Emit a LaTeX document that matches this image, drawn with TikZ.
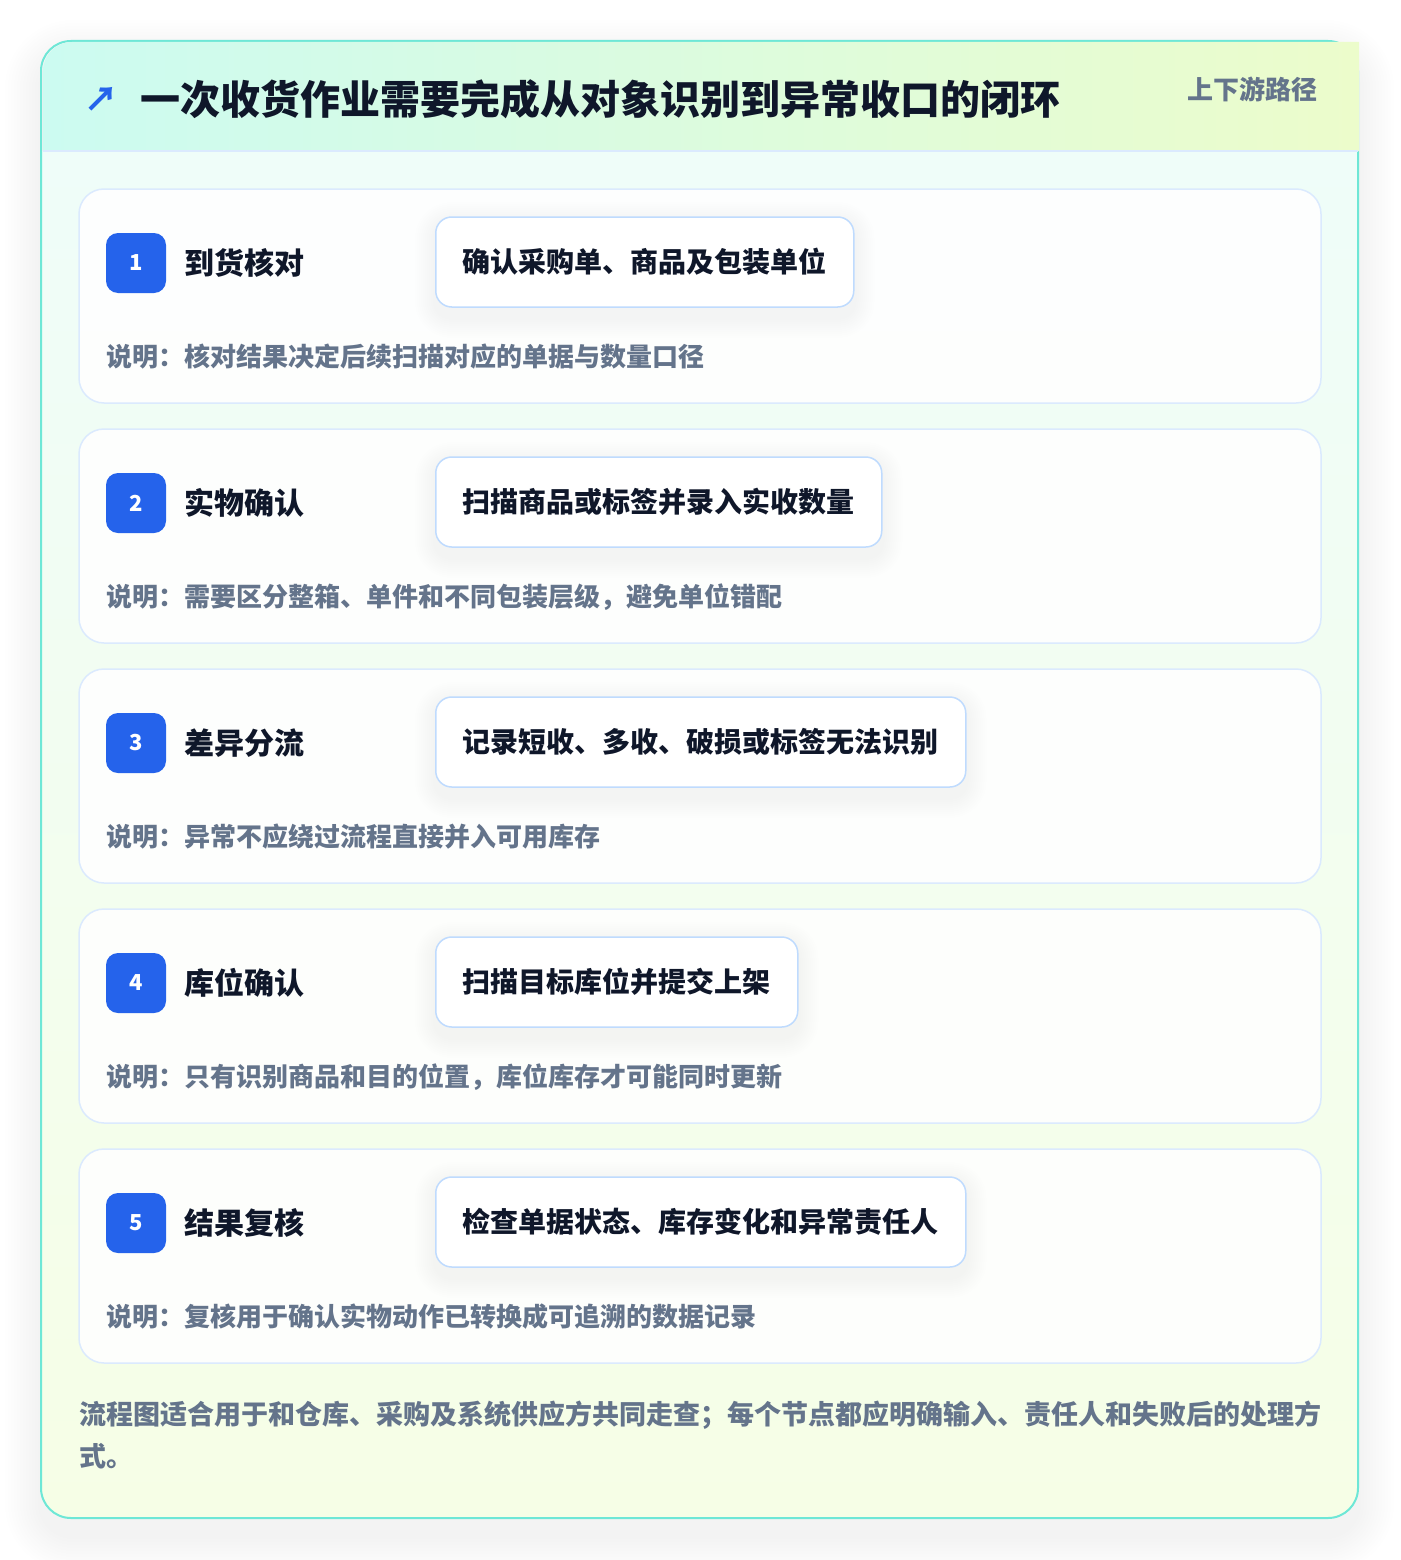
\documentclass[tikz,border=0pt]{standalone}
\usepackage{fontspec}
\setmainfont{Noto Sans CJK SC}
\usetikzlibrary{positioning}
\definecolor{tealedge}{HTML}{6EE7D6}
\definecolor{headleft}{HTML}{CCFBF1}
\definecolor{headright}{HTML}{ECFCCB}
\definecolor{bodytop}{HTML}{EFFDF9}
\definecolor{bodybot}{HTML}{F6FEE6}
\definecolor{cardedge}{HTML}{DBEAFE}
\definecolor{boxedge}{HTML}{BFDBFE}
\definecolor{badgeblue}{HTML}{2563EB}
\definecolor{ink}{HTML}{0F172A}
\definecolor{muted}{HTML}{64748B}
\pgfdeclarelayer{back}
\pgfdeclarelayer{shade}
\pgfsetlayers{back,shade,main}
\tikzset{
  stepcard/.style={draw=cardedge, line width=1.5pt, fill=white, fill opacity=0.88, draw opacity=1, rounded corners=25pt},
  badge/.style={fill=badgeblue, rounded corners=12pt, minimum size=60pt, inner sep=0pt, text=white, font=\fontsize{22}{22}\selectfont\bfseries},
  steptitle/.style={anchor=west, inner sep=0pt, text=ink, font=\fontsize{30}{30}\selectfont\bfseries},
  actbox/.style={anchor=west, draw=boxedge, line width=1.5pt, fill=white, rounded corners=16pt, minimum height=90pt, inner xsep=27pt, text=ink, font=\fontsize{28}{28}\selectfont\bfseries},
  stepnote/.style={anchor=west, inner sep=0pt, text=muted, font=\fontsize{26}{26}\selectfont\bfseries}
}
\begin{document}
\begin{tikzpicture}[x=1pt,y=-1pt]
\useasboundingbox (0,0) rectangle (1400,1560);
% outer shadow and panel
\begin{pgfonlayer}{back}
\fill [white] (0,0) rectangle (1400,1560);
\foreach \s in {3,6,...,36}
  \fill [black, fill opacity=0.0055, rounded corners=32pt+\s pt] (41-\s,56-\s) rectangle (1358+\s,1536+\s);
\begin{scope}
\clip [rounded corners=30pt] (41,41) rectangle (1358,1518);
\shade [top color=bodytop, bottom color=bodybot] (41,151) rectangle (1358,1518);
\end{scope}
\draw [tealedge, line width=2pt, rounded corners=30pt] (41,41) rectangle (1358,1518);
% header band
\shade [left color=headleft, right color=headright] (43,151) -- (43,71) arc [start angle=180, end angle=90, radius=29pt] -- (1359,42) -- (1359,151) -- cycle;
\draw [cardedge, line width=1.5pt] (43,151) -- (1358,151);
\end{pgfonlayer}
\node [text=badgeblue, font=\fontsize{34}{34}\selectfont\bfseries] (arrow) at (101,99) {↗};
\node [anchor=west, inner sep=0pt, text=ink, font=\fontsize{40}{40}\selectfont\bfseries] (headline) at (140,99) {一次收货作业需要完成从对象识别到异常收口的闭环};
\node [anchor=east, inner sep=0pt, text=muted, font=\fontsize{26}{26}\selectfont\bfseries] (tag) at (1318,89) {上下游路径};
% steps
\foreach \n/\ttl/\act/\desc [count=\i from 0] in {
  1/到货核对/确认采购单、商品及包装单位/核对结果决定后续扫描对应的单据与数量口径,
  2/实物确认/扫描商品或标签并录入实收数量/需要区分整箱、单件和不同包装层级，避免单位错配,
  3/差异分流/记录短收、多收、破损或标签无法识别/异常不应绕过流程直接并入可用库存,
  4/库位确认/扫描目标库位并提交上架/只有识别商品和目的位置，库位库存才可能同时更新,
  5/结果复核/检查单据状态、库存变化和异常责任人/复核用于确认实物动作已转换成可追溯的数据记录}
{
  \pgfmathsetmacro\top{189+240*\i}
  \begin{pgfonlayer}{back}
  \path [stepcard] (79,\top) rectangle (1321,\top+214);
  \end{pgfonlayer}
  \node [badge] (badge\n) at (136,\top+74) {\n};
  \node [steptitle] (title\n) at (184,\top+74) {\ttl};
  \node [actbox] (act\n) at (435,\top+73) {\act};
  \node [stepnote] (note\n) at (106,\top+168) {说明：\desc};
  \begin{pgfonlayer}{shade}
  \foreach \s in {2,4,...,20}
    \fill [black, fill opacity=0.0045, rounded corners=16pt+\s pt] ([xshift=-\s pt, yshift=-6pt+\s pt]act\n.north west) rectangle ([xshift=\s pt, yshift=-10pt-\s pt]act\n.south east);
  \end{pgfonlayer}
}
% footer
\node [anchor=north west, inner sep=0pt, align=left, text=muted, font=\fontsize{27}{42}\selectfont\bfseries] (footer) at (79,1401) {流程图适合用于和仓库、采购及系统供应方共同走查；每个节点都应明确输入、责任人和失败后的处理方\\式。};
\end{tikzpicture}
\end{document}
